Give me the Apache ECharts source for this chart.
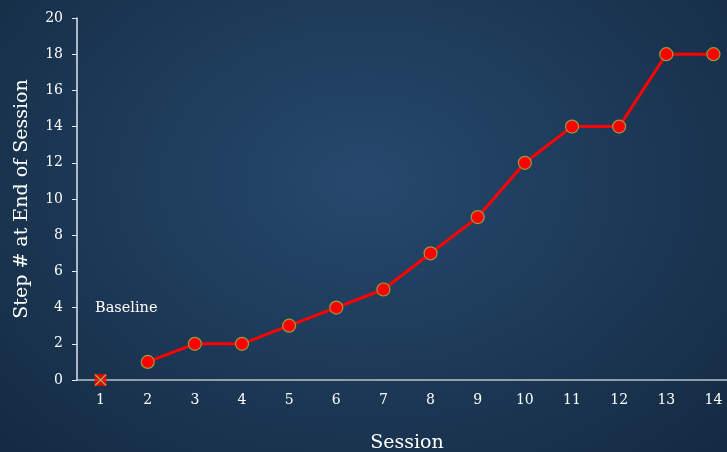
<!DOCTYPE html>
<html>
<head>
<meta charset="utf-8">
<script src="https://cdn.jsdelivr.net/npm/echarts@6/dist/echarts.min.js"></script>
<style>
html, body { margin: 0; padding: 0; }
body {
  width: 727px; height: 452px; overflow: hidden;
  background: radial-gradient(ellipse at 50% 40%, #26496d 0%, #1e3b5a 45%, #142a42 100%);
}
#chart { width: 727px; height: 452px; }
</style>
</head>
<body>
<div id="chart"></div>
<script>
// 数据
var sessions = ['1','2','3','4','5','6','7','8','9','10','11','12','13','14'];
var baselineVals = [0];
var stepVals = ['-', 1, 2, 2, 3, 4, 5, 7, 9, 12, 14, 14, 18, 18];
var yTicks = [0, 20, 2];

var font = 'DejaVu Serif';
var chart = echarts.init(document.getElementById('chart'));
chart.setOption({
  backgroundColor: 'transparent',
  grid: { left: 77, top: 18, width: 660, height: 362, containLabel: false, outerBoundsMode: 'none' },
  xAxis: {
    type: 'category', data: sessions, boundaryGap: true,
    name: 'Session', nameLocation: 'middle', nameGap: 54,
    nameTextStyle: { color: '#fff', fontFamily: font, fontSize: 19 },
    axisLine: { lineStyle: { color: '#b9c2cc', width: 1.5 } },
    axisTick: { alignWithLabel: true, length: 5, lineStyle: { color: '#d8dde4' } },
    axisLabel: { color: '#fff', fontFamily: font, fontSize: 14, margin: 13 }
  },
  yAxis: {
    type: 'value', min: yTicks[0], max: yTicks[1], interval: yTicks[2],
    name: 'Step # at End of Session', nameLocation: 'middle', nameGap: 45,
    nameTextStyle: { color: '#fff', fontFamily: font, fontSize: 19 },
    axisLine: { show: true, lineStyle: { color: '#e2e6eb', width: 1.5 } },
    axisTick: { show: true, length: 5, lineStyle: { color: '#e2e6eb' } },
    axisLabel: { color: '#fff', fontFamily: font, fontSize: 14, margin: 14 },
    splitLine: { show: false }
  },
  graphic: [{
    type: 'text', left: 95, top: 301,
    style: { text: 'Baseline', fill: '#fff', font: '14.5px "DejaVu Serif"' }
  }],
  series: [
    {
      type: 'scatter', data: baselineVals, symbol: 'rect', symbolSize: 12,
      itemStyle: { color: '#ff0000' }, z: 3
    },
    {
      type: 'scatter', data: baselineVals,
      symbol: 'path://M0,0L10,10M10,0L0,10', symbolSize: 11,
      itemStyle: { color: 'none', borderColor: '#a7c23a', borderWidth: 1.5 }, z: 4
    },
    {
      type: 'line', data: stepVals, symbol: 'circle', symbolSize: 13,
      lineStyle: { color: '#ff0000', width: 3 },
      itemStyle: { color: '#ff0000', borderColor: '#9c9a3e', borderWidth: 1.2 },
      z: 5
    }
  ],
  animation: false
});
</script>
</body>
</html>
